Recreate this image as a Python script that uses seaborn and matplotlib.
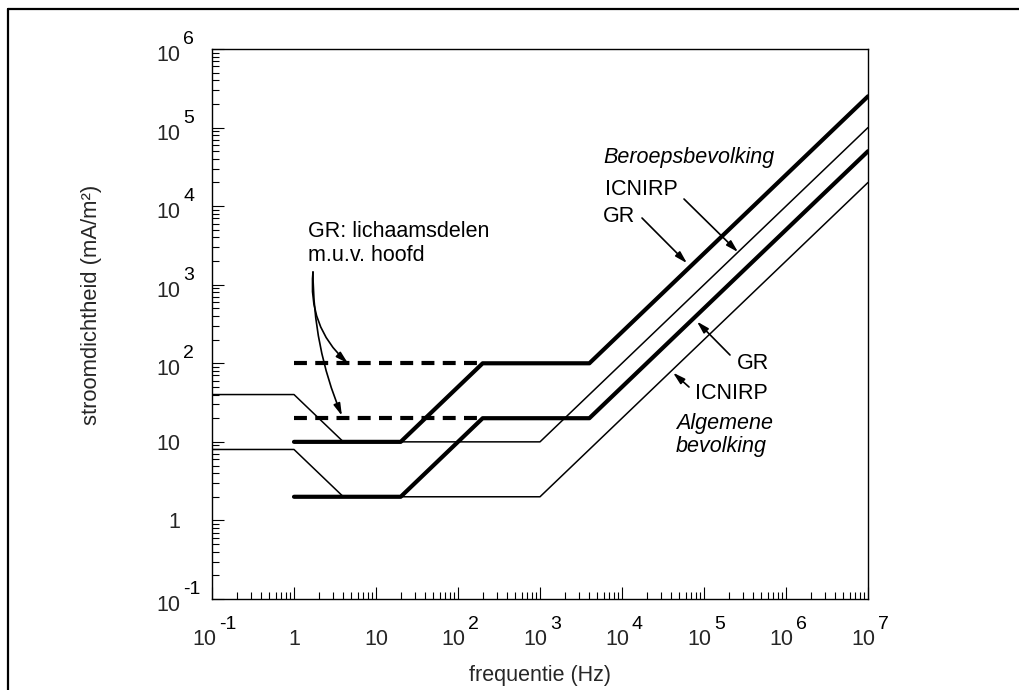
import numpy as np
import pandas as pd
import matplotlib
matplotlib.use("Agg")
import matplotlib.pyplot as plt
import matplotlib.transforms as mtransforms
from matplotlib.lines import Line2D
from matplotlib.ticker import LogLocator, NullFormatter
import seaborn as sns

# ---------------- data ----------------
freq_icnirp = [0.1, 1, 4, 1000, 1e7]
j_icnirp_occ = [40, 40, 10, 10, 1e5]
j_icnirp_pub = [8, 8, 2, 2, 2e4]

freq_gr = [1, 20, 200, 4000, 1e7]
j_gr_occ = [10, 10, 100, 100, 2.5e5]
j_gr_pub = [2, 2, 20, 20, 5e4]

freq_gr_limbs = [1, 200]
j_gr_limbs_occ = [100, 100]
j_gr_limbs_pub = [20, 20]

x_ticks = [1e-1, 1, 10, 1e2, 1e3, 1e4, 1e5, 1e6, 1e7]
x_tick_base = ["10", "1", "10", "10", "10", "10", "10", "10", "10"]
x_tick_exp = ["-1", "", "", "2", "3", "4", "5", "6", "7"]
y_ticks = [1e-1, 1, 10, 1e2, 1e3, 1e4, 1e5, 1e6]
y_tick_base = ["10", "1", "10", "10", "10", "10", "10", "10"]
y_tick_exp = ["-1", "", "", "2", "3", "4", "5", "6"]

x_label = "frequentie (Hz)"
y_label = "stroomdichtheid (mA/m²)"

# ---------------- style ----------------
sns.set_theme(style="white")
plt.rcParams["font.family"] = ["Liberation Sans", "DejaVu Sans"]
plt.rcParams["axes.edgecolor"] = "black"
plt.rcParams["text.color"] = "black"

fig = plt.figure(figsize=(10.19, 6.90), dpi=100)
ax = fig.add_axes([212 / 1019, 1 - 599 / 690, 656 / 1019, 550 / 690])
ax.set_xscale("log")
ax.set_yscale("log")

THICK = 3.0
THIN = 1.1
DASH = (0, (3.1, 2.0))

sns.lineplot(x=freq_icnirp, y=j_icnirp_occ, ax=ax, color="black", linewidth=THIN,
             sort=False, estimator=None)
sns.lineplot(x=freq_icnirp, y=j_icnirp_pub, ax=ax, color="black", linewidth=THIN,
             sort=False, estimator=None)
sns.lineplot(x=freq_gr, y=j_gr_occ, ax=ax, color="black", linewidth=THICK,
             sort=False, estimator=None)
sns.lineplot(x=freq_gr, y=j_gr_pub, ax=ax, color="black", linewidth=THICK,
             sort=False, estimator=None)
sns.lineplot(x=freq_gr_limbs, y=j_gr_limbs_occ, ax=ax, color="black", linewidth=THICK,
             sort=False, estimator=None, linestyle=DASH)
sns.lineplot(x=freq_gr_limbs, y=j_gr_limbs_pub, ax=ax, color="black", linewidth=THICK,
             sort=False, estimator=None, linestyle=DASH)

ax.set_xlim(1e-1, 1e7)
ax.set_ylim(1e-1, 1e6)

# spines
for s in ax.spines.values():
    s.set_visible(True)
    s.set_color("black")
    s.set_linewidth(1.0)

# ticks
ax.xaxis.set_minor_locator(LogLocator(base=10, subs=np.arange(2, 10), numticks=20))
ax.yaxis.set_minor_locator(LogLocator(base=10, subs=np.arange(2, 10), numticks=20))
ax.xaxis.set_minor_formatter(NullFormatter())
ax.yaxis.set_minor_formatter(NullFormatter())
ax.set_xticks(x_ticks, x_tick_base)
ax.set_yticks(y_ticks, y_tick_base)
ax.tick_params(which="both", direction="in", bottom=True, left=True, top=False,
               right=False, color="black", width=0.8)
ax.tick_params(which="major", length=8.6)
ax.tick_params(which="minor", length=5.0)
ax.tick_params(axis="x", which="major", labelsize=15.5, pad=33)   # baseline 46 px below
ax.tick_params(axis="y", which="major", labelsize=15.5, pad=23)   # right edge 32 px left

PX = 72 / 100  # points per pixel
EXP_FS = 14
HALF_DIGITS = 12  # half width of "10" in px

def exp_width_px(e):
    return 17 if e.startswith("-") else 11

# x tick labels: digits (tick labels) + raised exponent (annotation)
for lab, tick, e in zip(ax.get_xticklabels(), x_ticks, x_tick_exp):
    lab.set_va("baseline")
    if e:
        dx = -(3 + exp_width_px(e)) / 2 + 2
        lab.set_transform(lab.get_transform() +
                          mtransforms.ScaledTranslation(dx / 100, 0, fig.dpi_scale_trans))
        ax.annotate(e, xy=(tick, 0), xycoords=ax.get_xaxis_transform(),
                    xytext=((dx + HALF_DIGITS + 3) * PX, -30 * PX),
                    textcoords="offset points",
                    ha="left", va="baseline", fontsize=EXP_FS, annotation_clip=False)

# y tick labels
for lab, tick, e in zip(ax.get_yticklabels(), y_ticks, y_tick_exp):
    lab.set_va("baseline")
    dy = -12 if e else -8
    lab.set_transform(lab.get_transform() +
                      mtransforms.ScaledTranslation(0, dy / 100, fig.dpi_scale_trans))
    if e:
        ax.annotate(e, xy=(0, tick), xycoords=ax.get_yaxis_transform(),
                    xytext=(-29 * PX, 5 * PX), textcoords="offset points",
                    ha="left", va="baseline", fontsize=EXP_FS, annotation_clip=False)

ax.set_xlabel(x_label, fontsize=15.5)
ax.set_ylabel(y_label, fontsize=15.8)
ax.xaxis.label.set_va("center")
ax.yaxis.label.set_va("center")
ax.xaxis.set_label_coords(0.5, (599 - 675) / 550)
ax.yaxis.set_label_coords((92 - 212) / 656, (599 - 305) / 550)

# ---------------- annotations ----------------
FS = 15.5
arrow_kw = dict(arrowstyle="-|>,head_length=0.6,head_width=0.17", color="black",
                lw=1.2, mutation_scale=12, shrinkA=0, shrinkB=0)

def frac(px, py):
    return ((px - 212) / 656, (599 - py) / 550)

ax.text(*frac(308, 243.5), "GR: lichaamsdelen\nm.u.v. hoofd", transform=ax.transAxes,
        fontsize=FS, ha="left", va="center", linespacing=1.15)
ax.annotate("", xy=(4.55, 100), xycoords="data", xytext=frac(313, 272),
            textcoords="axes fraction",
            arrowprops=dict(connectionstyle="arc3,rad=0.25", **arrow_kw))
ax.annotate("", xy=(3.84, 21.5), xycoords="data", xytext=frac(313, 272),
            textcoords="axes fraction",
            arrowprops=dict(connectionstyle="arc3,rad=0.1", **arrow_kw))

ax.text(*frac(603, 157), "Beroepsbevolking", transform=ax.transAxes, fontsize=FS,
        ha="left", va="center", style="italic")
ax.text(*frac(605, 190), "ICNIRP", transform=ax.transAxes, fontsize=FS,
        ha="left", va="center")
ax.text(*frac(603, 217), "GR", transform=ax.transAxes, fontsize=FS,
        ha="left", va="center")
ax.annotate("", xy=(2.6e5, 2600), xycoords="data", xytext=frac(684, 199),
            textcoords="axes fraction", arrowprops=arrow_kw)
ax.annotate("", xy=(6.2e4, 1880), xycoords="data", xytext=frac(642, 218),
            textcoords="axes fraction", arrowprops=arrow_kw)

ax.text(*frac(737, 364), "GR", transform=ax.transAxes, fontsize=FS,
        ha="left", va="center")
ax.text(*frac(695, 394), "ICNIRP", transform=ax.transAxes, fontsize=FS,
        ha="left", va="center")
ax.text(*frac(676, 435), "Algemene\nbevolking", transform=ax.transAxes, fontsize=FS,
        ha="left", va="center", style="italic", linespacing=1.1)
ax.annotate("", xy=(8.2e4, 340), xycoords="data", xytext=frac(730, 355),
            textcoords="axes fraction", arrowprops=arrow_kw)
ax.annotate("", xy=(4.19e4, 76), xycoords="data", xytext=frac(689, 387),
            textcoords="axes fraction", arrowprops=arrow_kw)

# outer frame (top and left edges)
fig.add_artist(Line2D([8 / 1019, 1.0], [1 - 9 / 690, 1 - 9 / 690],
                      transform=fig.transFigure, color="black", lw=1.6))
fig.add_artist(Line2D([8 / 1019, 8 / 1019], [0.0, 1 - 9 / 690],
                      transform=fig.transFigure, color="black", lw=1.6))

fig.savefig("out.png", dpi=100)
